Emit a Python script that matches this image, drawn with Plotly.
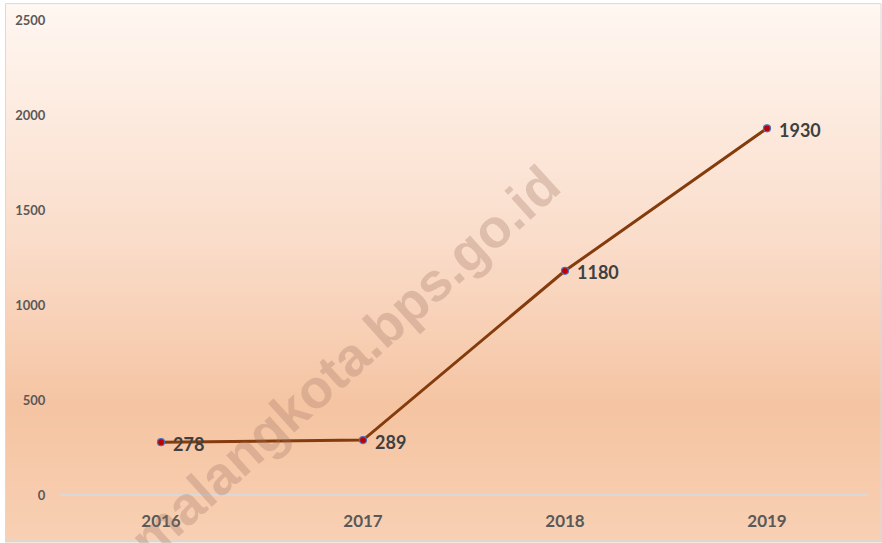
import plotly.graph_objects as go

years = ["2016", "2017", "2018", "2019"]
values = [278, 289, 1180, 1930]
y_ticks = [0, 500, 1000, 1500, 2000, 2500]

W, H = 882, 543
L, R, T, B = 60, 14, 18, 47
pw, ph = W - L - R, H - T - B

def px_to_paper_x(px):
    return (px - L) / pw

def px_to_paper_y(py):
    return 1 - (py - T) / ph

def hex2rgb(h):
    h = h.lstrip("#")
    return tuple(int(h[i:i + 2], 16) for i in (0, 2, 4))

stops = [(0.0, "#FFF7F2"), (0.45, "#FADCC9"), (0.75, "#F5C4A2"), (1.0, "#F8D0B4")]

def color_at(t):
    for (t0, c0), (t1, c1) in zip(stops[:-1], stops[1:]):
        if t0 <= t <= t1:
            f = (t - t0) / (t1 - t0) if t1 > t0 else 0
            a, b = hex2rgb(c0), hex2rgb(c1)
            return "rgb(%d,%d,%d)" % tuple(round(a[i] + (b[i] - a[i]) * f) for i in range(3))
    return stops[-1][1]

shapes = []
n = 90
for i in range(n):
    y0 = 2 + (H - 2) * i / n
    y1 = 2 + (H - 2) * (i + 1) / n + 0.8
    shapes.append(dict(type="rect", xref="paper", yref="paper", layer="below",
                       x0=px_to_paper_x(5), x1=px_to_paper_x(W),
                       y0=px_to_paper_y(y1), y1=px_to_paper_y(y0),
                       fillcolor=color_at((i + 0.5) / n), line=dict(width=0)))
shapes.append(dict(type="rect", xref="paper", yref="paper", layer="below",
                   x0=px_to_paper_x(5.5), x1=px_to_paper_x(W - 1),
                   y0=px_to_paper_y(H - 1), y1=px_to_paper_y(1.5),
                   fillcolor="rgba(0,0,0,0)", line=dict(color="#D9D9D9", width=1)))

fig = go.Figure()
fig.add_trace(go.Scatter(
    x=years, y=values, mode="lines+markers",
    line=dict(color="#843C0C", width=3),
    marker=dict(size=7, color="#C00000", line=dict(color="#4472C4", width=1.2)),
    cliponaxis=False,
))

for i, v in enumerate(values):
    fig.add_annotation(x=i, y=v, xref="x", yref="y", text=str(v), showarrow=False,
                       xanchor="left", yanchor="middle", xshift=10, yshift=-1.5,
                       font=dict(family="Lato, Arial", size=18, color="#404040", weight="bold"))

fig.add_annotation(
    text="malangkota.bps.go.id", xref="paper", yref="paper",
    x=px_to_paper_x(344), y=px_to_paper_y(362), xanchor="center", yanchor="middle",
    showarrow=False, textangle=-42,
    font=dict(family="Liberation Sans, Arial", size=54, color="rgba(160,115,100,0.30)", weight="bold"),
)

fig.update_layout(
    width=W, height=H,
    margin=dict(l=L, r=R, t=T, b=B),
    paper_bgcolor="white", plot_bgcolor="rgba(0,0,0,0)",
    showlegend=False, shapes=shapes,
    xaxis=dict(type="category", range=[-0.5, 3.5], showgrid=False, zeroline=False,
               showline=False, ticks="outside", ticklen=11, tickcolor="rgba(0,0,0,0)",
               tickfont=dict(family="Lato, Arial", size=17, color="#595959", weight="bold")),
    yaxis=dict(range=[0, 2500], tickvals=y_ticks, showgrid=False, zeroline=True,
               zerolinecolor="#D9D9D9", zerolinewidth=1.5, showline=False,
               ticks="outside", ticklen=11, tickcolor="rgba(0,0,0,0)",
               tickfont=dict(family="Lato, Arial", size=13, color="#595959", weight="bold")),
)

fig.write_html("out.html", config={"displayModeBar": False},
               post_script="document.body.style.margin='0';document.body.style.padding='0';")
